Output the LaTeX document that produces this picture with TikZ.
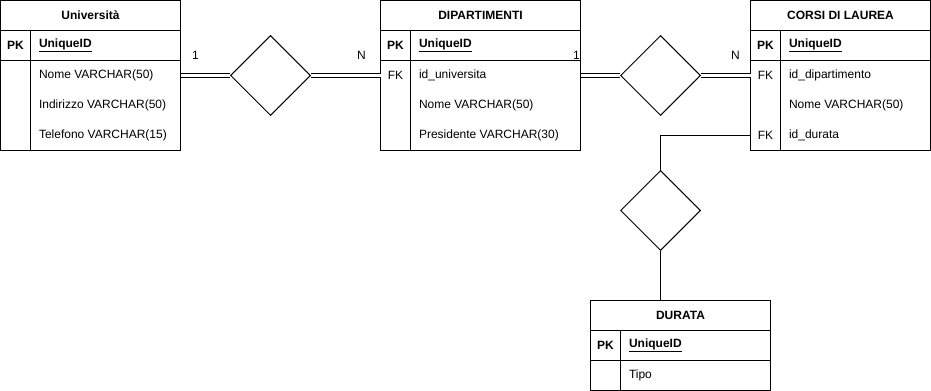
\documentclass[tikz,border=0pt]{standalone}
\usepackage{fontspec}
\setmainfont{Liberation Sans}
\usetikzlibrary{shapes.geometric}

\tikzset{
  hdr/.style={font=\bfseries},
  key/.style={font=\bfseries},
  fld/.style={anchor=west, inner sep=0pt},
  pkfld/.style={fld, font=\bfseries},
  rel/.style={draw, diamond, fill=white, minimum width=60pt, minimum height=60pt, inner sep=0pt},
  card/.style={inner sep=0pt},
  link/.style={double, double distance=2.25pt},
}

\begin{document}
\fontsize{9}{11}\selectfont
\begin{tikzpicture}[x=0.75pt, y=-0.75pt, line width=0.75pt]
\useasboundingbox (0,0) rectangle (931,391);
\begin{scope}[shift={(0.5,0.5)}]

% Universita
\draw (0,0) rectangle (180,150);
\draw (0,30) -- (180,30) (0,60) -- (180,60) (30,30) -- (30,150);
\node[hdr] (uni) at (90,15) {Università};
\node[key] (uniPK) at (15,45) {PK};
\node[pkfld] (uniID) at (38,45) {\underline{UniqueID}};
\node[fld] (uniNome) at (38,75) {Nome VARCHAR(50)};
\node[fld] (uniInd) at (38,105) {Indirizzo VARCHAR(50)};
\node[fld] (uniTel) at (38,135) {Telefono VARCHAR(15)};

% Dipartimenti
\draw (380,0) rectangle (580,150);
\draw (380,30) -- (580,30) (380,60) -- (580,60) (410,30) -- (410,150);
\node[hdr] (dip) at (480,15) {DIPARTIMENTI};
\node[key] (dipPK) at (395,45) {PK};
\node[pkfld] (dipID) at (418,45) {\underline{UniqueID}};
\node (dipFK) at (395,75) {FK};
\node[fld] (dipUni) at (418,75) {id\_universita};
\node[fld] (dipNome) at (418,105) {Nome VARCHAR(50)};
\node[fld] (dipPres) at (418,135) {Presidente VARCHAR(30)};

% Corsi di laurea
\draw (750,0) rectangle (930,150);
\draw (750,30) -- (930,30) (750,60) -- (930,60) (780,30) -- (780,150);
\node[hdr] (cor) at (840,15) {CORSI DI LAUREA};
\node[key] (corPK) at (765,45) {PK};
\node[pkfld] (corID) at (788,45) {\underline{UniqueID}};
\node (corFK1) at (765,75) {FK};
\node[fld] (corDip) at (788,75) {id\_dipartimento};
\node[fld] (corNome) at (788,105) {Nome VARCHAR(50)};
\node (corFK2) at (765,135) {FK};
\node[fld] (corDurata) at (788,135) {id\_durata};

% Durata
\draw (590,300) rectangle (770,390);
\draw (590,330) -- (770,330) (590,360) -- (770,360) (620,330) -- (620,390);
\node[hdr] (dur) at (680,315) {DURATA};
\node[key] (durPK) at (605,345) {PK};
\node[pkfld] (durID) at (628,345) {\underline{UniqueID}};
\node[fld] (durTipo) at (628,375) {Tipo};

% relations
\node[rel] (r1) at (270,75) {};
\node[rel] (r2) at (660,75) {};
\node[rel] (r3) at (660,210) {};

\coordinate (uniR) at (180,75);
\coordinate (dipL) at (380,75);
\coordinate (dipR) at (580,75);
\coordinate (corL) at (750,75);
\coordinate (corDur) at (750,135);
\coordinate (durT) at (660,300);

\draw[link] (uniR) -- (r1.west);
\draw[link] (r1.east) -- (dipL);
\draw[link] (dipR) -- (r2.west);
\draw[link] (r2.east) -- (corL);
\draw (corDur) -| (r3.north);
\draw (r3.south) -- (durT);

% cardinalities
\node[card] (c1) at (195,55) {1};
\node[card] (c2) at (361,55) {N};
\node[card] (c3) at (576,55) {1};
\node[card] (c4) at (735,55) {N};
\end{scope}
\end{tikzpicture}
\end{document}
